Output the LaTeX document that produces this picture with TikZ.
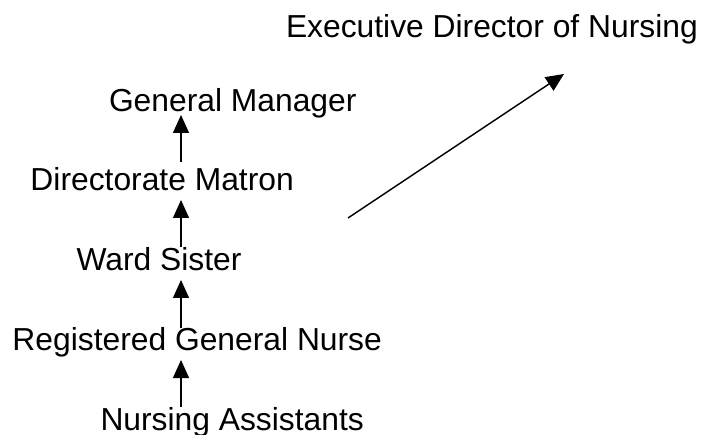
\documentclass[tikz,border=0pt]{standalone}
\usepackage{fontspec}
\setmainfont{Liberation Sans}
\usetikzlibrary{arrows.meta}

\begin{document}
\begin{tikzpicture}[x=1pt,y=-1pt,
  role/.style={anchor=base west,inner sep=0pt,outer sep=0pt,
    font=\fontsize{31.8}{31.8}\selectfont},
  rise/.style={line width=1.4pt,-{Triangle[length=18pt,width=16pt]}}]
  \useasboundingbox (0,0) rectangle (701,435);

  % job titles, bottom of the ladder last
  \node[role] (exec) at (286,38)   {Executive Director of Nursing};
  \node[role] (gm)   at (109,112)  {General Manager};
  \node[role] (dm)   at (30.5,191) {Directorate Matron};
  \node[role] (ws)   at (76.5,271) {Ward Sister};
  \node[role] (rgn)  at (12.5,351) {Registered General Nurse};
  \node[role] (na)   at (100.5,430) {Nursing Assistants};

  % vertical line of the reporting arrows
  \coordinate (axis) at (181,0);

  \draw[rise] ([yshift=29pt]axis |- dm.base)  -- ([yshift=-3pt]axis |- gm.base);
  \draw[rise] ([yshift=24pt]axis |- ws.base)  -- ([yshift=-9pt]axis |- dm.base);
  \draw[rise] ([yshift=23pt]axis |- rgn.base) -- ([yshift=-9pt]axis |- ws.base);
  \draw[rise] ([yshift=23pt]axis |- na.base)  -- ([yshift=-9pt]axis |- rgn.base);

  % diagonal link up to the executive level
  \coordinate (linkfrom) at (348,218);
  \coordinate (linkto)   at (564,74);
  \draw[rise] (linkfrom) -- (linkto);
\end{tikzpicture}
\end{document}
